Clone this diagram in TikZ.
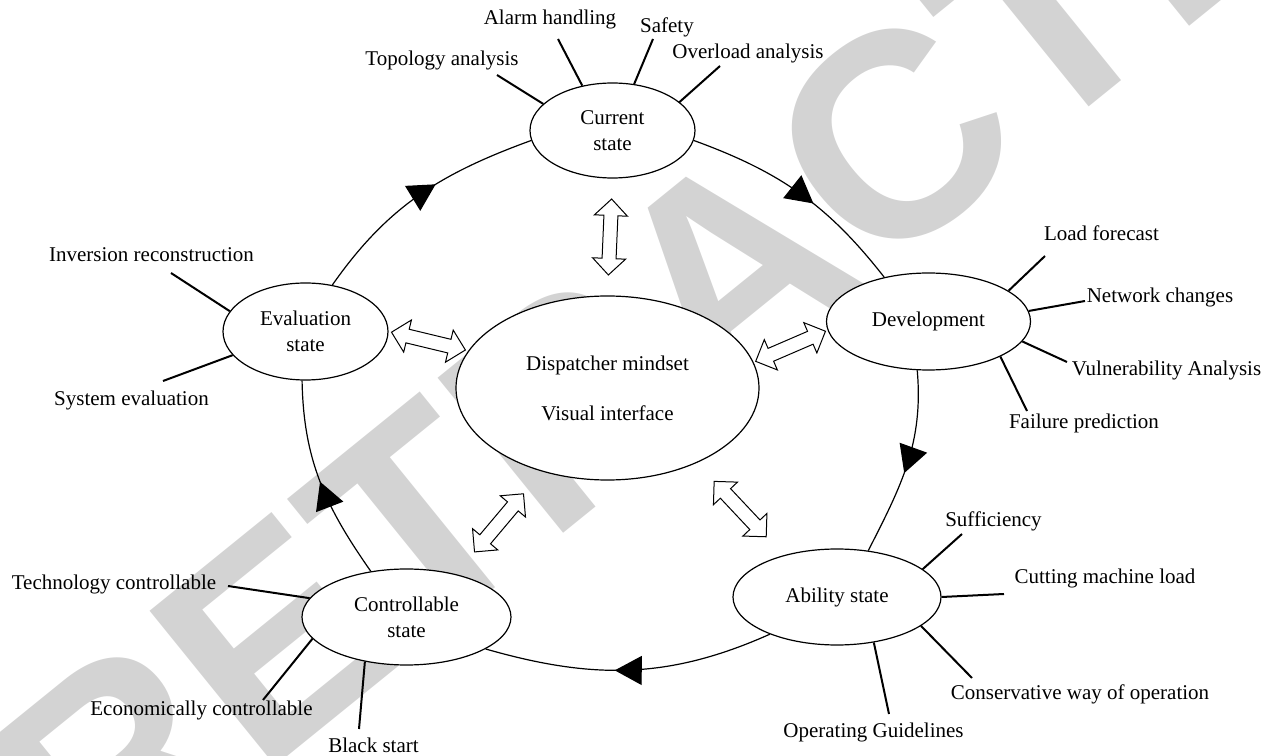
\documentclass[tikz,border=0pt]{standalone}
\usepackage{fontspec}
\setmainfont{Liberation Serif}
\newfontfamily\wmfont{Liberation Sans}
\usepackage{tikz}
\usetikzlibrary{shapes.geometric, shapes.arrows, arrows.meta, decorations.markings}
\definecolor{wmgray}{RGB}{211,211,211}
\tikzstyle{state} = [ellipse, draw = black, fill = white, line width=0.6pt, inner sep=0pt, align=center, font=\fontsize{10.5}{13}\selectfont]
\tikzstyle{item} = [inner sep=0pt, font=\fontsize{10.5}{13}\selectfont]
\tikzstyle{spoke} = [line width=1pt]
\tikzstyle{link} = [double arrow, draw = black, fill = white, line width=0.5pt, inner sep=3.25pt, minimum height=38pt, double arrow head extend=4.75pt, sloped]
\tikzset{flow/.style={line width=0.6pt, postaction={decorate}, decoration={markings, mark=at position #1 with {\arrow{Triangle[length=13.5pt, width=14.5pt]}}}}}

\begin{document}
\begin{tikzpicture}[x=0.5pt, y=0.5pt]
		\useasboundingbox (0,0) rectangle (1271,756);
		\begin{scope}
			\clip (0,0) rectangle (1271,756);
			\node (stamp) [rotate=39, text=wmgray, font=\wmfont\bfseries\fontsize{145}{145}\selectfont] at (730,486) {RETRACTED};
		\end{scope}

		\node (cur) [state, minimum width=82.5pt, minimum height=47.5pt] at (612.5,625.5) {Current\\state};
		\node (disp) [state, minimum width=151.5pt, minimum height=92pt] at (607.5,368) {Dispatcher mindset\\[12pt]Visual interface};
		\node (eval) [state, minimum width=82.5pt, minimum height=48.5pt] at (305.5,424.5) {Evaluation\\state};
		\node (dev) [state, minimum width=102pt, minimum height=48.5pt] at (928.5,434.5) {Development};
		\node (ctrl) [state, minimum width=104.5pt, minimum height=48pt] at (406.5,139) {Controllable\\state};
		\node (abil) [state, minimum width=104pt, minimum height=48pt] at (837,159) {Ability state};

		\node (topo) [item] at (442,696) {Topology analysis};
		\node (alarm) [item] at (550,737) {Alarm handling};
		\node (safety) [item] at (667,729) {Safety};
		\node (overload) [item] at (748,703) {Overload analysis};
		\node (inversion) [item] at (151.5,501) {Inversion reconstruction};
		\node (syseval) [item] at (131.5,356) {System evaluation};
		\node (load) [item] at (1101.5,523) {Load forecast};
		\node (network) [item] at (1160,459) {Network changes};
		\node (vuln) [item] at (1166.5,386) {Vulnerability Analysis};
		\node (failure) [item] at (1084,333) {Failure prediction};
		\node (tech) [item] at (114,172) {Technology controllable};
		\node (econ) [item] at (201.5,46) {Economically controllable};
		\node (black) [item] at (373.5,11) {Black start};
		\node (suff) [item] at (993.5,235) {Sufficiency};
		\node (cut) [item] at (1105,178) {Cutting machine load};
		\node (cons) [item] at (1080,62) {Conservative way of operation};
		\node (oper) [item] at (873.5,24) {Operating Guidelines};

		\coordinate (topoE) at (497,681);
		\coordinate (alarmE) at (558,717);
		\coordinate (safetyE) at (653,717);
		\coordinate (overloadE) at (720,690);
		\coordinate (inversionE) at (171,483);
		\coordinate (sysevalE) at (163,375);
		\coordinate (loadE) at (1045,500);
		\coordinate (networkE) at (1085,455);
		\coordinate (vulnE) at (1067,394);
		\coordinate (failureE) at (1027,345);
		\coordinate (techE) at (228,170);
		\coordinate (econE) at (263,56);
		\coordinate (blackE) at (359,27);
		\coordinate (suffE) at (962,222);
		\coordinate (cutE) at (1004,162);
		\coordinate (consE) at (972,78);
		\coordinate (operE) at (889,42);

		\draw [spoke](cur.159) -- (topoE);
		\draw [spoke](cur.124) -- (alarmE);
		\draw [spoke](cur.65) -- (safetyE);
		\draw [spoke](cur.23) -- (overloadE);
		\draw [spoke](eval.165) -- (inversionE);
		\draw [spoke](eval.198) -- (sysevalE);
		\draw [spoke](dev.21) -- (loadE);
		\draw [spoke](dev.6) -- (networkE);
		\draw [spoke](dev.-12) -- (vulnE);
		\draw [spoke](dev.-26) -- (failureE);
		\draw [spoke](ctrl.169) -- (techE);
		\draw [spoke](ctrl.193) -- (econE);
		\draw [spoke](ctrl.227) -- (blackE);
		\draw [spoke](abil.18) -- (suffE);
		\draw [spoke](abil.0) -- (cutE);
		\draw [spoke](abil.-19) -- (consE);
		\draw [spoke](abil.-51) -- (operE);

		\draw [flow=0.58](eval.60) to[out=55, in=200] (cur.187);
		\draw [flow=0.57](cur.353) to[out=-20, in=128] (dev.135);
		\draw [flow=0.55](dev.257) to[out=-85, in=63] (abil.56);
		\draw [flow=0.55](abil.209.5) to[out=204, in=-16] (ctrl.-22.7);
		\draw [flow=0.5](ctrl.128.7) to[out=125, in=-89] (eval.266);

		\path (cur.south) -- node [link] {} (disp.north);
		\path (eval.east) -- node [link] {} (disp.165);
		\path (disp.10) -- node [link] {} (dev.185);
		\path (disp.232) -- node [link] {} (ctrl.41);
		\path (disp.-40) -- node [link] {} (abil.142);
	\end{tikzpicture}
\end{document}
